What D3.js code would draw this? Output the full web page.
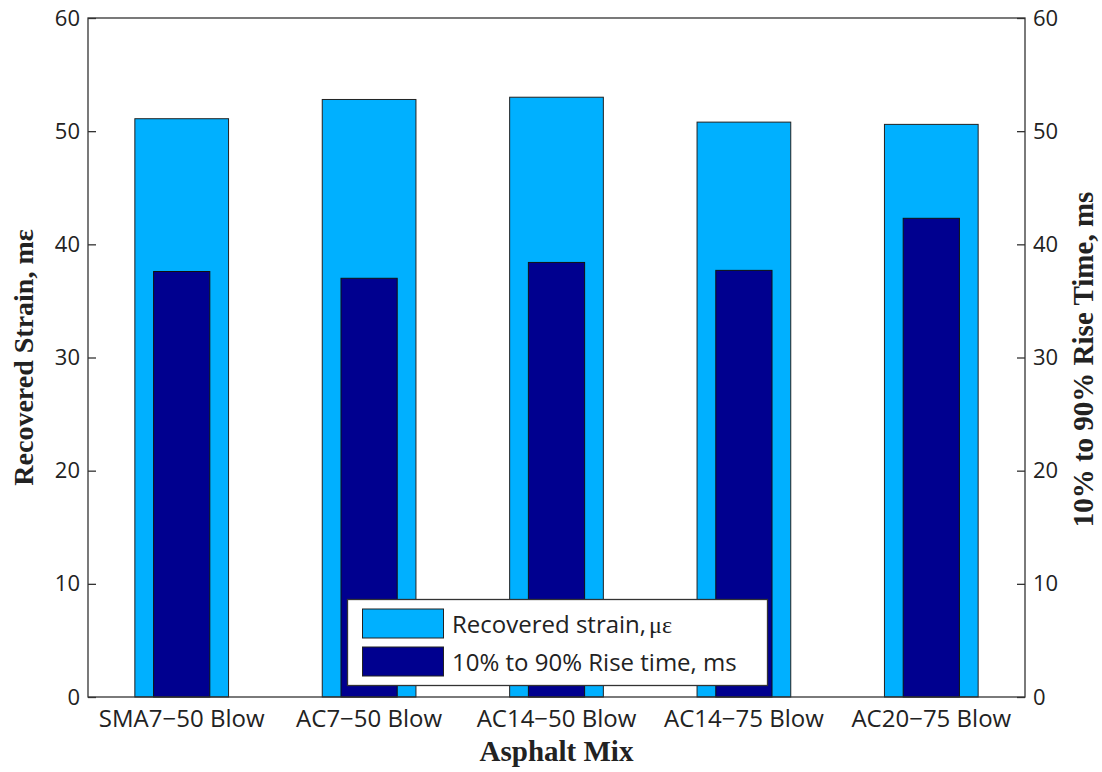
<!DOCTYPE html>
<html><head><meta charset="utf-8">
<script src="https://cdn.jsdelivr.net/npm/d3@7"></script>
<style>body{margin:0;background:#fff}</style>
</head><body>
<svg id="c" width="1102" height="772"></svg>
<script>
const categories = ["SMA7\u221250 Blow","AC7\u221250 Blow","AC14\u221250 Blow","AC14\u221275 Blow","AC20\u221275 Blow"];
const recoveredStrain = [51.1, 52.8, 53.0, 50.8, 50.6];
const riseTime = [37.6, 37.0, 38.4, 37.7, 42.3];
const yTicks = [0,10,20,30,40,50,60];
const legendLabels = ["Recovered strain,", "10% to 90% Rise time, ms"];

const svg = d3.select("#c");
const L = 88, R = 1025, T = 18, B = 697;
const x = d3.scaleBand().domain(categories).range([L, R]).padding(0);
const yL = d3.scaleLinear().domain([0,60]).range([B,T]);
const yR = d3.scaleLinear().domain([0,60]).range([B,T]);
const tickFont = "'Open Sans', sans-serif";

// bars
svg.append("g").selectAll("rect").data(categories).join("rect")
  .attr("x", d => x(d) + x.bandwidth()*0.25)
  .attr("width", x.bandwidth()*0.5)
  .attr("y", (d,i) => yL(recoveredStrain[i]))
  .attr("height", (d,i) => B - yL(recoveredStrain[i]))
  .attr("fill", "#00B0FF").attr("stroke", "#222").attr("stroke-width", 1);
svg.append("g").selectAll("rect").data(categories).join("rect")
  .attr("x", d => x(d) + x.bandwidth()*0.35)
  .attr("width", x.bandwidth()*0.3)
  .attr("y", (d,i) => yR(riseTime[i]))
  .attr("height", (d,i) => B - yR(riseTime[i]))
  .attr("fill", "#00008F").attr("stroke", "#111").attr("stroke-width", 1);

// axes
const axL = d3.axisLeft(yL).tickValues(yTicks).tickSize(-8).tickPadding(8).tickFormat(d3.format("d"));
const gL = svg.append("g").attr("transform", `translate(${L},0)`).call(axL);
const axR = d3.axisRight(yR).tickValues(yTicks).tickSize(-8).tickPadding(8).tickFormat(d3.format("d"));
const gR = svg.append("g").attr("transform", `translate(${R},0)`).call(axR);
const axB = d3.axisBottom(x).tickSize(0).tickPadding(13);
const gB = svg.append("g").attr("transform", `translate(0,${B})`).call(axB);
[gL,gR,gB].forEach(g => {
  g.selectAll("path.domain").remove();
  g.selectAll("line").attr("stroke", "#333").attr("stroke-width", 1.3);
  g.selectAll("text").attr("font-family", tickFont).attr("font-size", 22).attr("fill", "#222");
});
gB.selectAll("text").attr("font-size", 24);
// frame
svg.append("rect").attr("x", L).attr("y", T).attr("width", R-L).attr("height", B-T)
  .attr("fill", "none").attr("stroke", "#333").attr("stroke-width", 1.3);

// axis titles
const titleFont = "'Liberation Serif', 'Times New Roman', serif";
svg.append("text").attr("x", (L+R)/2).attr("y", 761).attr("text-anchor","middle")
  .attr("font-family", titleFont).attr("font-weight","bold").attr("font-size", 29).attr("fill","#222")
  .text("Asphalt Mix");
svg.append("text").attr("transform", `translate(33,${(T+B)/2}) rotate(-90)`).attr("text-anchor","middle")
  .attr("font-family", titleFont).attr("font-weight","bold").attr("font-size", 28).attr("fill","#222")
  .text("Recovered Strain, m\u03b5");
svg.append("text").attr("transform", `translate(1093,${(T+B)/2 + 2}) rotate(-90)`).attr("text-anchor","middle")
  .attr("font-family", titleFont).attr("font-weight","bold").attr("font-size", 29).attr("fill","#222")
  .text("10% to 90% Rise Time, ms");

// legend
const lg = svg.append("g");
lg.append("rect").attr("x", 347.5).attr("y", 599.5).attr("width", 420).attr("height", 86)
  .attr("fill", "#fff").attr("stroke", "#333").attr("stroke-width", 1.3);
const colors = ["#00B0FF", "#00008F"];
legendLabels.forEach((lab, i) => {
  const yy = 609 + i*38;
  lg.append("rect").attr("x", 362.5).attr("y", yy).attr("width", 81).attr("height", 29)
    .attr("fill", colors[i]).attr("stroke", "#222").attr("stroke-width", 1);
  const t = lg.append("text").attr("x", 452).attr("y", yy + 24)
    .attr("font-family", tickFont).attr("font-size", 24).attr("fill", "#222").text(lab);
  if (i === 0) t.append("tspan").attr("font-family", titleFont).attr("dx", 3).text("\u03bc\u03b5");
});
</script>
</body></html>
